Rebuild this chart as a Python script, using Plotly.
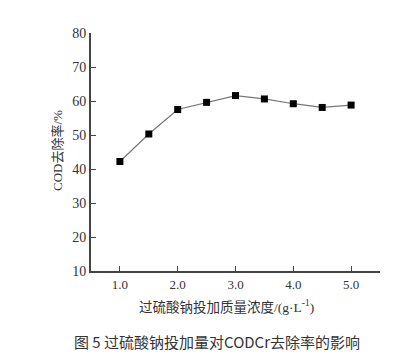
import plotly.graph_objects as go

dose = [1.0, 1.5, 2.0, 2.5, 3.0, 3.5, 4.0, 4.5, 5.0]
removal = [42.2, 50.3, 57.5, 59.6, 61.6, 60.6, 59.2, 58.1, 58.8]
x_ticks = [1.0, 2.0, 3.0, 4.0, 5.0]
x_ticktext = ["1.0", "2.0", "3.0", "4.0", "5.0"]
y_ticks = [10, 20, 30, 40, 50, 60, 70, 80]

serif = "Liberation Serif, Times New Roman, serif"
cjk_serif = "Liberation Serif, Noto Sans CJK SC, serif"

W, H = 405, 363
L, R, T, B = 83, 33, 25, 100
pw, ph = W - L - R, H - T - B


def px2paper(px, py):
    return (px - L) / pw, (H - B - py) / ph


fig = go.Figure()
fig.add_trace(go.Scatter(
    x=dose, y=removal, mode="lines+markers",
    line=dict(color="#777777", width=1.2),
    marker=dict(symbol="square", size=7, color="#000000"),
    showlegend=False,
))

ytx, yty = px2paper(49, 143)
xtx, xty = px2paper(218, 298)
cx, cy = px2paper(209, 333)

fig.update_layout(
    width=W, height=H,
    margin=dict(l=L, r=R, t=T, b=B, autoexpand=False),
    paper_bgcolor="white", plot_bgcolor="white",
    font=dict(family=serif, size=13, color="#333333"),
    xaxis=dict(
        range=[0.5, 5.5], tickvals=x_ticks, ticktext=x_ticktext,
        showline=True, linecolor="#444444", linewidth=2,
        ticks="inside", ticklen=5, tickcolor="#444444", tickwidth=1,
        showgrid=False, zeroline=False,
        tickfont=dict(family=serif, size=13, color="#333333"),
    ),
    yaxis=dict(
        range=[10, 80], tickvals=y_ticks,
        showline=True, linecolor="#444444", linewidth=2,
        ticks="inside", ticklen=5, tickcolor="#444444", tickwidth=1,
        showgrid=False, zeroline=False,
        tickfont=dict(family=serif, size=14, color="#333333"),
    ),
    annotations=[
        dict(text="COD去除率/%", x=ytx, y=yty, xref="paper", yref="paper",
             xanchor="center", yanchor="middle",
             showarrow=False, textangle=-90,
             font=dict(family=cjk_serif, size=13, color="#333333")),
        dict(text="过硫酸钠投加质量浓度/(g·L<sup>-1</sup>)", x=xtx, y=xty,
             xref="paper", yref="paper", xanchor="center", yanchor="middle",
             showarrow=False,
             font=dict(family=cjk_serif, size=13.5, color="#333333")),
        dict(text="图 5 过硫酸钠投加量对CODCr去除率的影响", x=cx, y=cy,
             xref="paper", yref="paper", xanchor="center", yanchor="middle",
             showarrow=False,
             font=dict(family="Noto Sans CJK SC, sans-serif", size=15, color="#333333")),
    ],
)

fig.write_html("out.html")
